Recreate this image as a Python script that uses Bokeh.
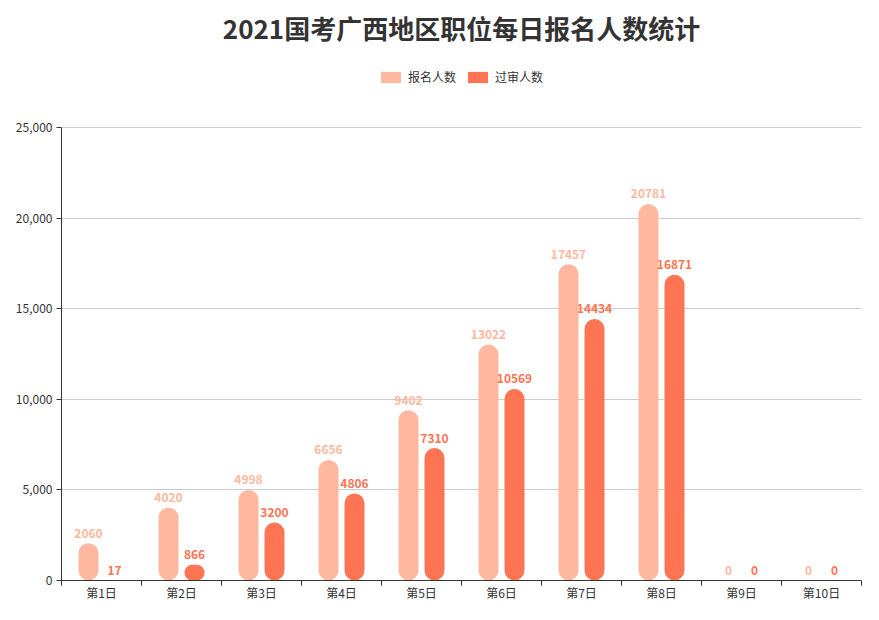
from bokeh.plotting import figure
from bokeh.models import (ColumnDataSource, FixedTicker, NumeralTickFormatter, Label,
                          Legend, LegendItem, Range1d)
from bokeh.core.properties import value
from bokeh.transform import dodge
from bokeh.embed import file_html
from bokeh.resources import INLINE

categories = ["第1日", "第2日", "第3日", "第4日", "第5日", "第6日", "第7日", "第8日", "第9日", "第10日"]
signup = [2060, 4020, 4998, 6656, 9402, 13022, 17457, 20781, 0, 0]
passed = [17, 866, 3200, 4806, 7310, 10569, 14434, 16871, 0, 0]
y_ticks = [0, 5000, 10000, 15000, 20000, 25000]
title_text = "2021国考广西地区职位每日报名人数统计"
series_names = ["报名人数", "过审人数"]

C1 = "#FFB8A0"
C2 = "#FF7452"
FONT = "Noto Sans CJK SC"

# layout: frame spans the full height above the x axis; the value axis covers 0..25000
FRAME_H = 580
AXIS_H = 453
Y_MAX = y_ticks[-1]
y_end = Y_MAX * FRAME_H / AXIS_H

xpos = [i + 0.5 for i in range(len(categories))]
src = ColumnDataSource(dict(x=xpos, cat=categories, s=signup, p=passed,
                            st=[str(v) for v in signup], pt=[str(v) for v in passed]))

p = figure(width=871, height=612, output_backend="svg", toolbar_location=None,
           x_range=Range1d(0, len(categories)), y_range=Range1d(0, y_end),
           min_border_left=61, min_border_right=10, min_border_top=0, min_border_bottom=32)
p.outline_line_color = None
p.background_fill_color = "white"
p.border_fill_color = "white"

r1 = p.vbar(x=dodge("x", -0.1625, range=p.x_range), top="s", width=0.25, source=src,
            fill_color=C1, line_color=None, border_radius=10)
r2 = p.vbar(x=dodge("x", 0.1625, range=p.x_range), top="p", width=0.25, source=src,
            fill_color=C2, line_color=None, border_radius=10)

p.text(x=dodge("x", -0.1625, range=p.x_range), y="s", text="st", source=src,
       text_color=C1, text_font=value(FONT), text_font_style="bold", text_font_size="12px",
       text_align="center", text_baseline="alphabetic", y_offset=-10)
p.text(x=dodge("x", 0.1625, range=p.x_range), y="p", text="pt", source=src,
       text_color=C2, text_font=value(FONT), text_font_style="bold", text_font_size="12px",
       text_align="center", text_baseline="alphabetic", y_offset=-10)

# x axis
xa = p.xaxis[0]
xa.ticker = FixedTicker(ticks=xpos, minor_ticks=list(range(len(categories) + 1)))
xa.major_label_overrides = {x: c for x, c in zip(xpos, categories)}
xa.major_tick_out = 0
xa.major_tick_in = 0
xa.minor_tick_out = 5
xa.minor_tick_in = 0
xa.minor_tick_line_color = "#333333"
xa.axis_line_color = "#333333"
xa.major_label_text_font = FONT
xa.major_label_text_font_size = "12px"
xa.major_label_text_color = "#333333"
xa.major_label_standoff = -2

ya = p.yaxis[0]
ya.ticker = FixedTicker(ticks=y_ticks)
ya.bounds = (0, Y_MAX)
ya.formatter = NumeralTickFormatter(format="0,0")
ya.major_tick_out = 5
ya.major_tick_in = 0
ya.minor_tick_out = 0
ya.minor_tick_in = 0
ya.major_tick_line_color = "#333333"
ya.axis_line_color = "#333333"
ya.major_label_text_font = FONT
ya.major_label_text_font_size = "12px"
ya.major_label_text_color = "#333333"
ya.major_label_standoff = 4

p.xgrid.grid_line_color = None
p.ygrid.grid_line_color = "#CCCCCC"
p.ygrid.ticker = FixedTicker(ticks=y_ticks)

title = Label(x=400, y=553, x_units="screen", y_units="screen", text=title_text,
              text_font=FONT, text_font_style="bold", text_font_size="26px",
              text_color="#333333", text_align="center", text_baseline="middle")
p.add_layout(title)

legend = Legend(items=[LegendItem(label=series_names[0], renderers=[r1]),
                       LegendItem(label=series_names[1], renderers=[r2])],
                location=(317, 495), orientation="horizontal",
                glyph_width=25, glyph_height=14, label_height=14,
                label_text_font=FONT, label_text_font_size="12px", label_text_color="#333333",
                label_standoff=5, spacing=9, padding=0, margin=0,
                border_line_color=None, background_fill_alpha=0)
p.add_layout(legend)

open("out.html", "w").write(file_html(p, INLINE))
